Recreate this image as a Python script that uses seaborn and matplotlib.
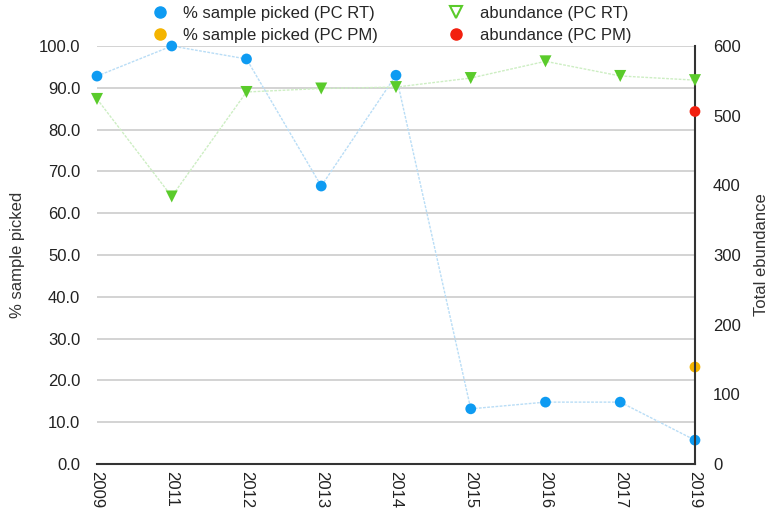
#!/usr/bin/env python
"""Percent of sample picked and total abundance by year (PC RT / PC PM)."""

import matplotlib
matplotlib.use("Agg")
import matplotlib.pyplot as plt
from matplotlib.lines import Line2D
import pandas as pd
import seaborn as sns

# Data
years = ["2009", "2011", "2012", "2013", "2014", "2015", "2016", "2017", "2019"]
pct_picked_rt = [92.8, 100.0, 96.9, 66.5, 93.0, 13.2, 14.8, 14.8, 5.7]
abundance_rt = [524, 384, 534, 539, 541, 554, 578, 557, 551]
pm_year = ["2019"]
pct_picked_pm = [23.2]
abundance_pm = [506]

left_ticks = [0, 10, 20, 30, 40, 50, 60, 70, 80, 90, 100]
right_ticks = [0, 100, 200, 300, 400, 500, 600]

BLUE = "#0e9bf2"
BLUE_LINE = "#b9ddf6"
GREEN = "#5acb2b"
GREEN_LINE = "#cdeec3"
ORANGE = "#f4b400"
RED = "#f2200f"

sns.set_theme(style="white")
plt.rcParams["font.family"] = ["Liberation Sans", "DejaVu Sans"]

rt = pd.DataFrame({"year": years, "pct": pct_picked_rt, "abund": abundance_rt})
pm = pd.DataFrame({"year": pm_year, "pct": pct_picked_pm, "abund": abundance_pm})

fig = plt.figure(figsize=(7.71, 5.14), dpi=100)
ax = fig.add_axes([0.1258, 0.0973, 0.7756, 0.8132])
ax2 = ax.twinx()

# left axis: % sample picked
sns.lineplot(data=rt, x="year", y="pct", ax=ax, color=BLUE_LINE, lw=1,
             linestyle=(0, (2, 1)), sort=False, zorder=3)
sns.scatterplot(data=rt, x="year", y="pct", ax=ax, color=BLUE, s=60,
                edgecolor="none", zorder=5)
sns.scatterplot(data=pm, x="year", y="pct", ax=ax, color=ORANGE, s=60,
                edgecolor="none", zorder=5)

# right axis: total abundance
sns.lineplot(data=rt, x="year", y="abund", ax=ax2, color=GREEN_LINE, lw=1,
             linestyle=(0, (2, 1)), sort=False, zorder=3)
sns.scatterplot(data=rt, x="year", y="abund", ax=ax2, color=GREEN, marker="v",
                s=75, edgecolor="none", zorder=5)
sns.scatterplot(data=pm, x="year", y="abund", ax=ax2, color=RED, s=60,
                edgecolor="none", zorder=5)

# keep the markers on the edge columns whole
for a in (ax, ax2):
    for coll in a.collections:
        coll.set_clip_on(False)

ax.set_xlim(0, len(years) - 1)
ax.set_ylim(0, 100)
ax.set_yticks(left_ticks)
ax.set_yticklabels([f"{t:.1f}" for t in left_ticks])
ax2.set_ylim(0, 600)
ax2.set_yticks(right_ticks)
ax2.set_yticklabels([str(t) for t in right_ticks])

ax.grid(axis="y", color="#cccccc", lw=1.2)
ax.set_axisbelow(True)
for a in (ax, ax2):
    for s in ("top", "left", "right", "bottom"):
        a.spines[s].set_visible(False)
for s in ("right", "bottom"):
    ax2.spines[s].set_visible(True)
    ax2.spines[s].set_color("#333333")
    ax2.spines[s].set_linewidth(1.5)

ax.tick_params(axis="y", length=0, pad=12, labelsize=12, labelcolor="#222222")
ax2.tick_params(axis="y", length=0, pad=13, labelsize=12, labelcolor="#222222")
ax.tick_params(axis="x", length=0, pad=5, labelsize=12, labelcolor="#222222",
               labelrotation=-90)
for lbl in ax.get_xticklabels():
    lbl.set_va("top")
    lbl.set_ha("center")

ax.set_xlabel("")
ax.set_ylabel("% sample picked", fontsize=12, color="#333333", labelpad=10)
ax2.set_ylabel("Total ebundance", fontsize=12, color="#333333")
ax2.yaxis.set_label_coords(1.099, 0.5)

handles = [
    Line2D([], [], marker="o", ls="none", color=BLUE, markersize=8),
    Line2D([], [], marker="o", ls="none", color=ORANGE, markersize=8),
    Line2D([], [], marker="v", ls="none", markerfacecolor="white",
           markeredgecolor=GREEN, markeredgewidth=1.5, markersize=8),
    Line2D([], [], marker="o", ls="none", color=RED, markersize=8),
]
labels = ["% sample picked (PC RT)", "% sample picked (PC PM)",
          "abundance (PC RT)", "abundance (PC PM)"]
fig.legend(handles, labels, ncol=2, loc="upper left",
           bbox_to_anchor=(0.175, 1.018), frameon=False, fontsize=12,
           columnspacing=4.1, handletextpad=0.8, labelspacing=0.45,
           handlelength=1.2)

fig.savefig("out.png", dpi=100)
